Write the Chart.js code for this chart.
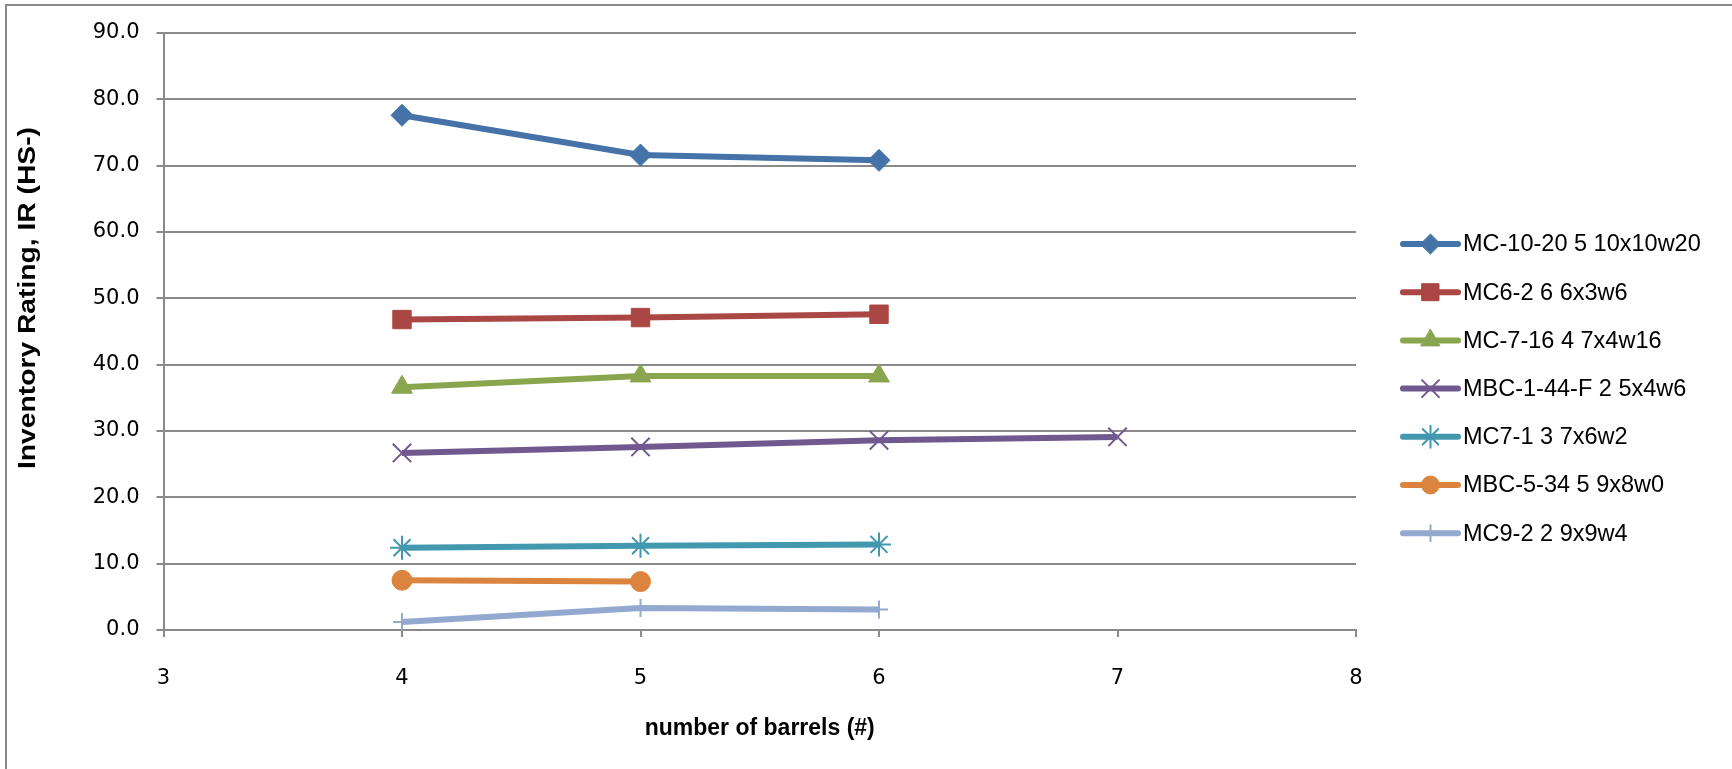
<!DOCTYPE html>
<html>
<head>
<meta charset="utf-8">
<script src="https://cdn.jsdelivr.net/npm/chart.js@4.4.1/dist/chart.umd.min.js"></script>
<style>
    html, body { margin: 0; padding: 0; background: #fff; }
    #wrap { position: relative; width: 1732px; height: 769px; }
    #frame { position: absolute; left: 5px; top: 4px; width: 1740px; height: 780px;
             border-left: 2px solid #898989; border-top: 2px solid #898989; }
    canvas { position: absolute; left: 0; top: 0; }
</style>
</head>
<body>
<div id="wrap">
    <div id="frame"></div>
    <canvas id="myChart" width="1732" height="769"></canvas>
</div>
<script>
// number of barrels for each point
const barrels = [4, 5, 6, 7];

const seriesNames = [
    'MC-10-20 5 10x10w20',
    'MC6-2 6 6x3w6',
    'MC-7-16 4 7x4w16',
    'MBC-1-44-F 2 5x4w6',
    'MC7-1 3 7x6w2',
    'MBC-5-34 5 9x8w0',
    'MC9-2 2 9x9w4'
];

// inventory rating values
const mc10_20 = [77.6, 71.6, 70.8];
const mc6_2 = [46.8, 47.1, 47.6];
const mc7_16 = [36.6, 38.3, 38.3];
const mbc1_44 = [26.7, 27.6, 28.6, 29.1];
const mc7_1 = [12.4, 12.7, 12.9];
const mbc5_34 = [7.5, 7.3];
const mc9_2 = [1.2, 3.3, 3.1];

const yTicks = [0, 10, 20, 30, 40, 50, 60, 70, 80, 90];
const yTitle = 'Inventory Rating, IR (HS-)';

const colors = ['#4572A7', '#AA4643', '#89A54E', '#71588F', '#4198AF', '#DB843D', '#93A9CF'];
const markers = ['rectRot', 'rect', 'triangle', 'crossRot', 'star', 'circle', 'cross'];
const markerSize = [11, 13, 12, 13, 12, 10, 9];
const allValues = [mc10_20, mc6_2, mc7_16, mbc1_44, mc7_1, mbc5_34, mc9_2];

function toPoints(vals) {
    return vals.map((v, i) => ({ x: barrels[i], y: v }));
}

function isThin(style) {
    return style === 'crossRot' || style === 'star' || style === 'cross';
}

const datasets = allValues.map((vals, i) => ({
    label: seriesNames[i],
    data: toPoints(vals),
    borderColor: colors[i],
    backgroundColor: colors[i],
    borderWidth: 6,
    pointStyle: markers[i],
    pointRadius: markerSize[i],
    pointBorderWidth: isThin(markers[i]) ? 2 : 1,
    pointBorderColor: colors[i],
    pointBackgroundColor: colors[i],
    tension: 0
}));

// Excel style legend: a line with the marker on it
const sideLegend = {
    id: 'sideLegend',
    afterDraw(chart) {
        const ctx = chart.ctx;
        const x0 = 1403, x1 = 1458, tx = 1463;
        let y = 244;
        chart.data.datasets.forEach((ds) => {
            ctx.save();
            ctx.strokeStyle = ds.borderColor;
            ctx.lineWidth = 6;
            ctx.lineCap = 'round';
            ctx.beginPath();
            ctx.moveTo(x0, y);
            ctx.lineTo(x1, y);
            ctx.stroke();
            ctx.fillStyle = ds.backgroundColor;
            ctx.strokeStyle = ds.borderColor;
            ctx.lineWidth = ds.pointBorderWidth;
            Chart.helpers.drawPoint(ctx, {
                pointStyle: ds.pointStyle,
                radius: ds.pointRadius - 1,
                rotation: 0,
                borderWidth: ds.pointBorderWidth
            }, (x0 + x1) / 2, y);
            ctx.fillStyle = '#000';
            ctx.font = '23.5px "Liberation Sans", Arial, sans-serif';
            ctx.textBaseline = 'middle';
            ctx.fillText(ds.label, tx, y + 1);
            ctx.restore();
            y += 48.2;
        });
    }
};

// y axis title, narrow bold like the original, sitting a bit above the middle
const yTitlePlugin = {
    id: 'yTitlePlugin',
    afterDraw(chart) {
        const ctx = chart.ctx;
        ctx.save();
        ctx.font = 'bold 23px "Liberation Sans", Arial, sans-serif';
        const w = ctx.measureText(yTitle).width;
        const target = 342;
        ctx.translate(29, 298);
        ctx.rotate(-Math.PI / 2);
        ctx.scale(target / w, 1);
        ctx.fillStyle = '#000';
        ctx.textAlign = 'center';
        ctx.textBaseline = 'middle';
        ctx.fillText(yTitle, 0, 0);
        ctx.restore();
    }
};

new Chart('myChart', {
    type: 'line',
    data: { datasets: datasets },
    options: {
        responsive: false,
        animation: false,
        layout: { padding: { left: 0, right: 376, top: 33, bottom: 0 } },
        plugins: {
            legend: { display: false },
            tooltip: { enabled: false }
        },
        scales: {
            x: {
                type: 'linear',
                min: 3,
                max: 8,
                ticks: { stepSize: 1, color: '#000', padding: 29,
                         font: { family: 'DejaVu Sans', size: 21 } },
                grid: { drawOnChartArea: false, color: '#8a8a8a', lineWidth: 2, tickLength: 7 },
                border: { color: '#8a8a8a', width: 2 },
                title: {
                    display: true,
                    text: 'number of barrels (#)',
                    color: '#000',
                    font: { family: 'Liberation Sans', size: 23, weight: 'bold' },
                    padding: { top: 0, bottom: 27 }
                },
                afterFit(scale) { scale.height = 139; }
            },
            y: {
                min: 0,
                max: 90,
                afterBuildTicks(scale) {
                    scale.ticks = yTicks.map(v => ({ value: v }));
                },
                ticks: {
                    color: '#000',
                    padding: 17,
                    font: { family: 'DejaVu Sans', size: 21 },
                    callback: (v) => Number(v).toFixed(1)
                },
                grid: { color: '#8a8a8a', lineWidth: 2, tickLength: 7 },
                border: { color: '#8a8a8a', width: 2 },
                afterFit(scale) { scale.width = 163.5; }
            }
        }
    },
    plugins: [sideLegend, yTitlePlugin]
});
</script>
</body>
</html>
